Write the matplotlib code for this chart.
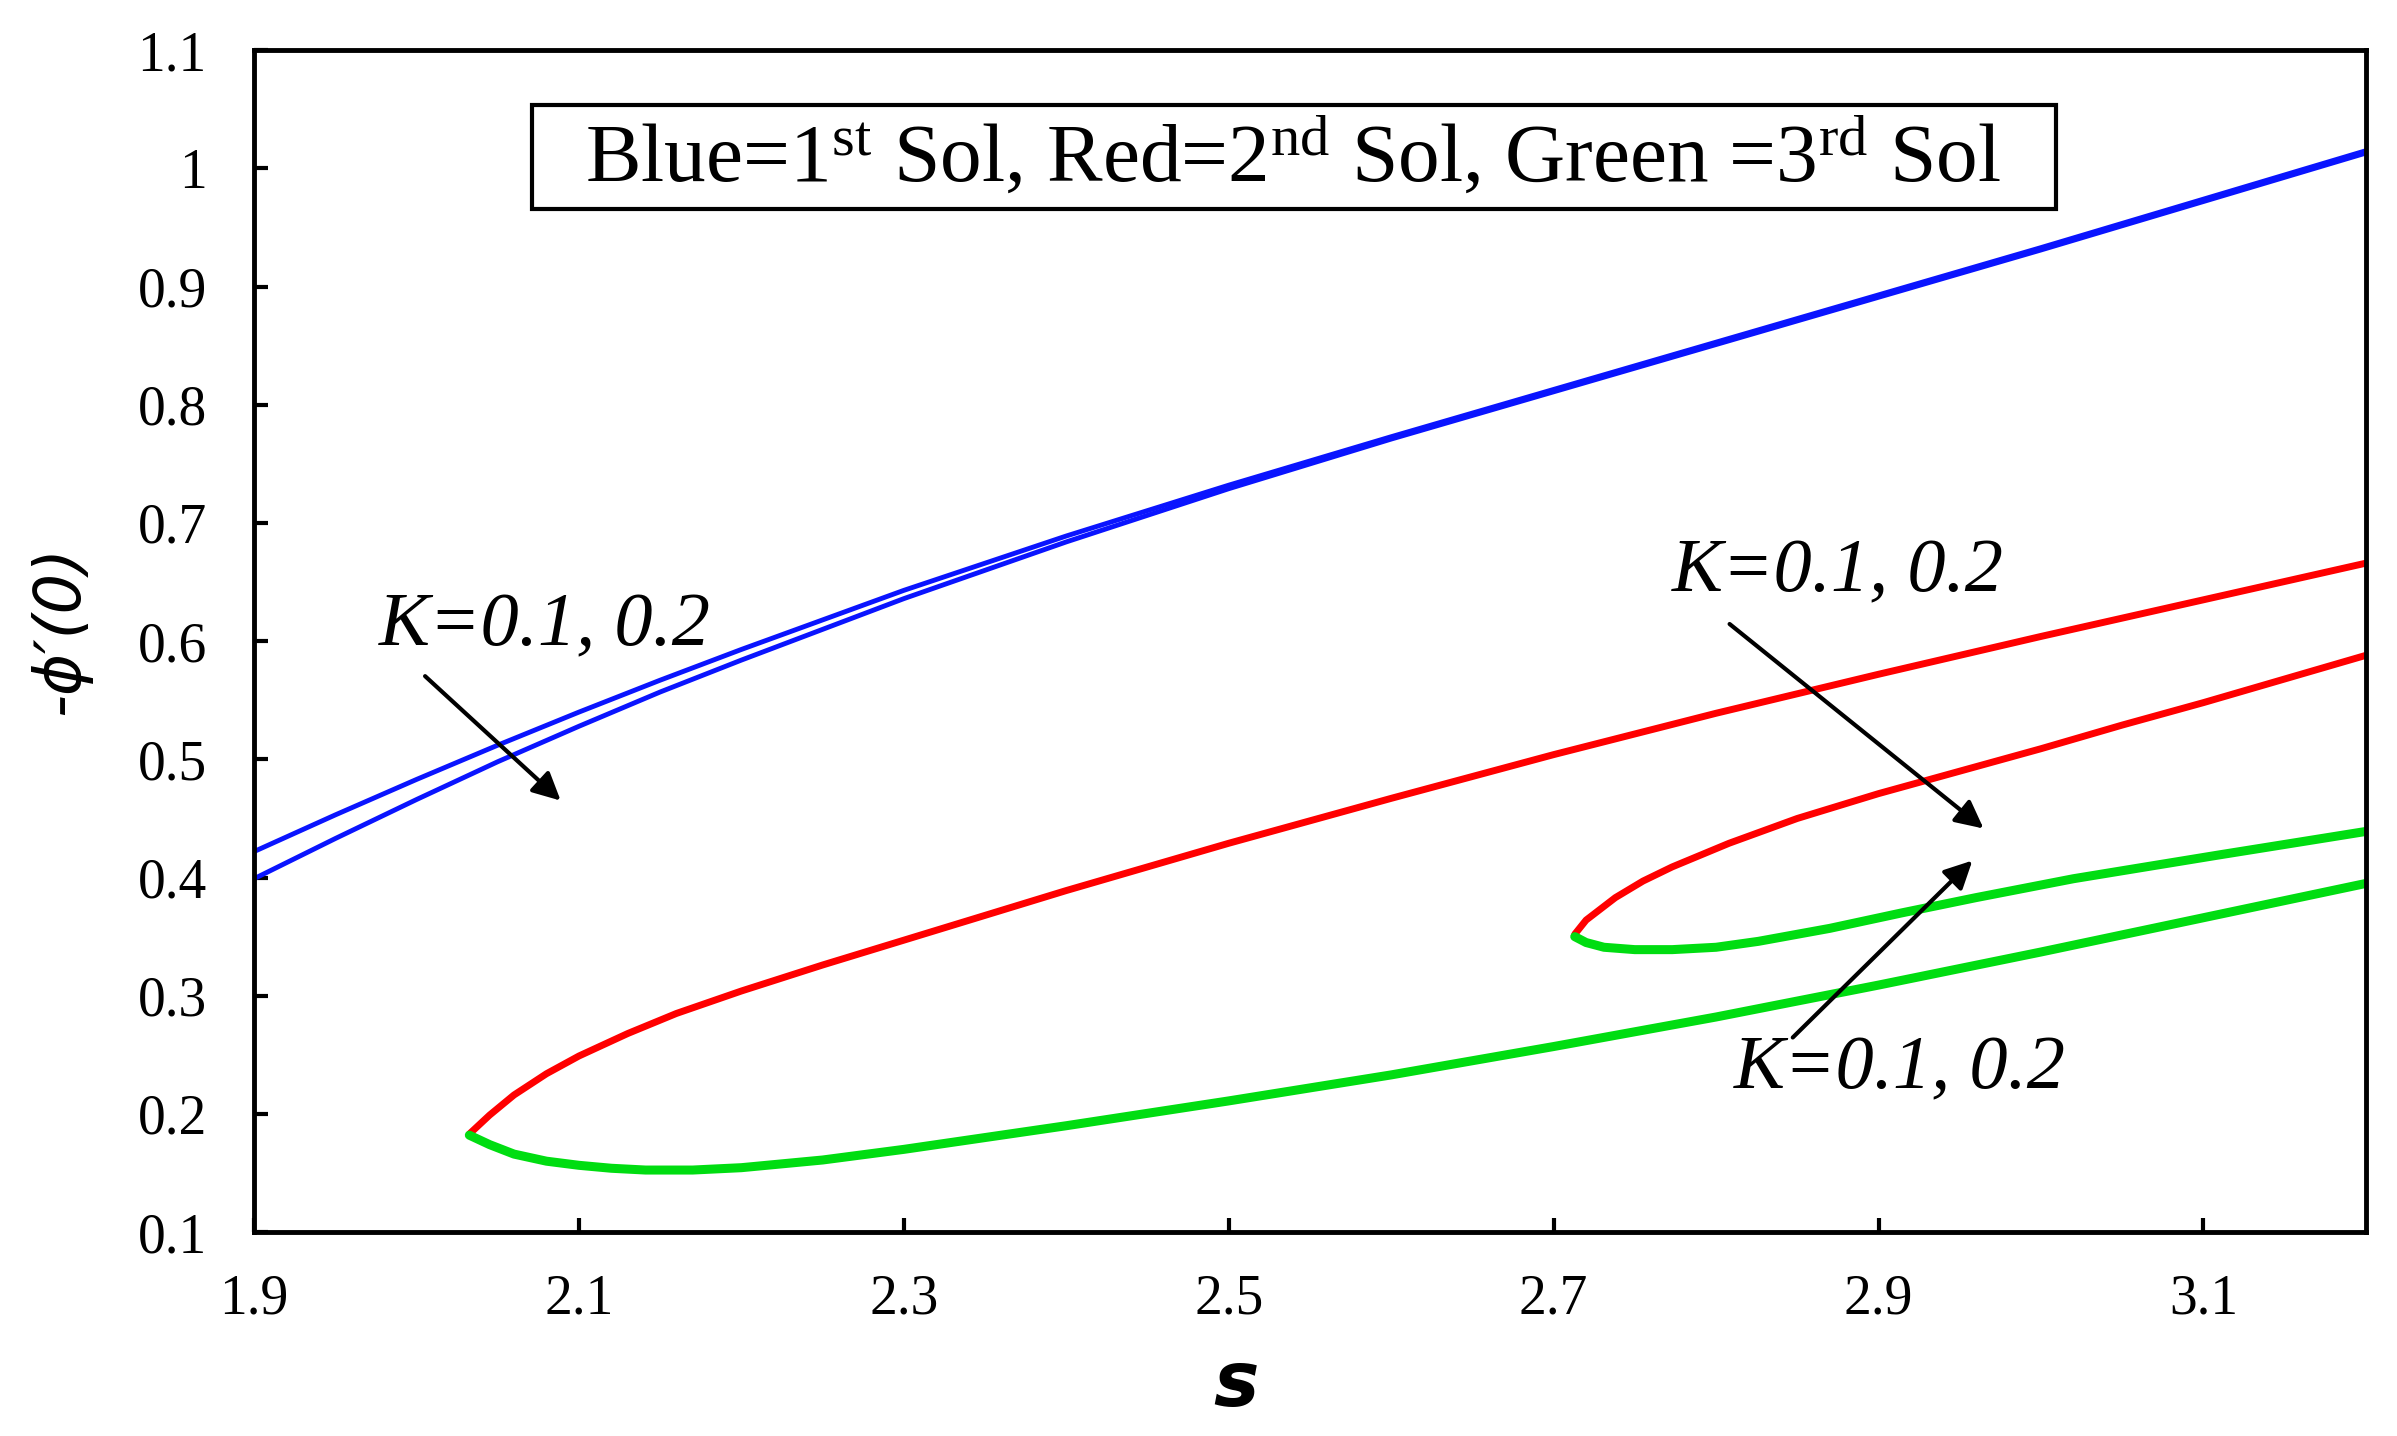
import matplotlib
matplotlib.use("Agg")
import matplotlib.pyplot as plt
from matplotlib.patches import Rectangle

plt.rcParams['font.family'] = ['Liberation Serif', 'DejaVu Serif']
plt.rcParams['mathtext.fontset'] = 'custom'
plt.rcParams['mathtext.rm'] = 'Liberation Serif'
plt.rcParams['mathtext.it'] = 'Liberation Serif:italic'

# 1st solution (blue), K=0.1 and K=0.2
blue_s = [1.9, 1.95, 2.0, 2.05, 2.1, 2.15, 2.2, 2.3, 2.4, 2.5, 2.6, 2.7, 2.8, 2.9, 3.0, 3.1, 3.2]
blue_k1 = [0.422, 0.453, 0.483, 0.512, 0.540, 0.567, 0.593, 0.643, 0.689, 0.732, 0.773, 0.813,
           0.853, 0.893, 0.933, 0.974, 1.015]
blue_k2 = [0.399, 0.433, 0.466, 0.498, 0.528, 0.557, 0.584, 0.636, 0.684, 0.729, 0.771, 0.811,
           0.851, 0.891, 0.931, 0.972, 1.013]

# 2nd solution (red)
red1_s = [2.0325, 2.045, 2.06, 2.08, 2.1, 2.13, 2.16, 2.2, 2.25, 2.3, 2.4, 2.5, 2.6, 2.7, 2.8,
          2.9, 3.0, 3.1, 3.2]
red1_v = [0.183, 0.199, 0.216, 0.234, 0.249, 0.268, 0.285, 0.304, 0.326, 0.347, 0.389, 0.429,
          0.467, 0.504, 0.539, 0.572, 0.604, 0.635, 0.666]
red2_s = [2.713, 2.72, 2.738, 2.755, 2.773, 2.808, 2.85, 2.9, 2.95, 3.0, 3.05, 3.1, 3.15, 3.2]
red2_v = [0.352, 0.364, 0.383, 0.397, 0.409, 0.429, 0.450, 0.471, 0.490, 0.509, 0.529, 0.548,
          0.568, 0.588]

# 3rd solution (green)
grn1_s = [2.0325, 2.045, 2.06, 2.08, 2.1, 2.12, 2.141, 2.17, 2.2, 2.25, 2.3, 2.4, 2.5, 2.6,
          2.7, 2.8, 2.9, 3.0, 3.1, 3.2]
grn1_v = [0.182, 0.174, 0.166, 0.160, 0.1565, 0.154, 0.1525, 0.1525, 0.1545, 0.161, 0.170,
          0.190, 0.211, 0.233, 0.257, 0.282, 0.309, 0.337, 0.366, 0.395]
grn2_s = [2.713, 2.72, 2.731, 2.75, 2.773, 2.8, 2.826, 2.87, 2.914, 2.96, 3.02, 3.06, 3.109,
          3.15, 3.2]
grn2_v = [0.350, 0.345, 0.341, 0.339, 0.339, 0.341, 0.346, 0.357, 0.370, 0.383, 0.399, 0.408,
          0.419, 0.428, 0.439]

xticks = [1.9, 2.1, 2.3, 2.5, 2.7, 2.9, 3.1]
yticks = [0.1, 0.2, 0.3, 0.4, 0.5, 0.6, 0.7, 0.8, 0.9, 1.0, 1.1]
ytick_labels = ['0.1', '0.2', '0.3', '0.4', '0.5', '0.6', '0.7', '0.8', '0.9', '1', '1.1']

fig = plt.figure(figsize=(23.97, 14.36), dpi=100)
ax = fig.add_axes([0.106, 0.142, 0.881, 0.823])

ax.plot(blue_s, blue_k1, color='#0a14ff', lw=3.5)
ax.plot(blue_s, blue_k2, color='#0a14ff', lw=3.5)
ax.plot(red1_s, red1_v, color='#ff0000', lw=5, solid_capstyle='round', solid_joinstyle='round')
ax.plot(red2_s, red2_v, color='#ff0000', lw=5, solid_capstyle='round', solid_joinstyle='round')
ax.plot(grn1_s, grn1_v, color='#00dd11', lw=6.5, solid_capstyle='round', solid_joinstyle='round')
ax.plot(grn2_s, grn2_v, color='#00dd11', lw=6.5, solid_capstyle='round', solid_joinstyle='round')

ax.set_xlim(1.9, 3.2)
ax.set_ylim(0.1, 1.1)
ax.set_xticks(xticks)
ax.set_xticklabels([str(t) for t in xticks], fontsize=40)
ax.set_yticks(yticks)
ax.set_yticklabels(ytick_labels, fontsize=40)
ax.tick_params(direction='in', length=10, width=3)
ax.tick_params(axis='x', pad=30)
ax.tick_params(axis='y', pad=34)
for sp in ax.spines.values():
    sp.set_linewidth(3.5)

fig.text(1236 / 2397, 1 - 1385 / 1436, 's', fontsize=55, fontweight='bold', fontstyle='italic',
         family='DejaVu Sans', ha='center', va='center')
fig.text(60 / 2397, 1 - 630 / 1436, '-\u03d5\u2032(0)', fontsize=46, fontstyle='italic',
         family='DejaVu Sans', rotation=90, ha='center', va='center')

# legend-like box
ax.add_patch(Rectangle((0.1316, 0.866), 0.7215, 0.088, transform=ax.transAxes,
                       fill=False, ec='black', lw=3, zorder=5))
ax.text(0.492, 0.908, r'Blue=1$^{\mathrm{st}}$ Sol, Red=2$^{\mathrm{nd}}$ Sol, Green =3$^{\mathrm{rd}}$ Sol',
        transform=ax.transAxes, ha='center', va='center', fontsize=60)

arrow = dict(arrowstyle='-|>', lw=3, color='black', mutation_scale=42)
ax.annotate('', xy=(2.090, 0.4635), xytext=(2.004, 0.572), arrowprops=arrow)
ax.annotate('', xy=(2.966, 0.440), xytext=(2.807, 0.616), arrowprops=arrow)
ax.annotate('', xy=(2.959, 0.416), xytext=(2.846, 0.263), arrowprops=arrow)
ax.text(2.079, 0.612, 'K=0.1, 0.2', fontsize=55, fontstyle='italic', ha='center', va='center')
ax.text(2.875, 0.658, 'K=0.1, 0.2', fontsize=55, fontstyle='italic', ha='center', va='center')
ax.text(2.913, 0.237, 'K=0.1, 0.2', fontsize=55, fontstyle='italic', ha='center', va='center')

fig.savefig('out.png', dpi=100)
